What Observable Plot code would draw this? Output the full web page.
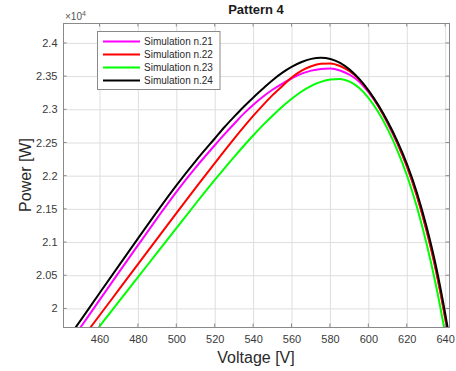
<!DOCTYPE html>
<html><head><meta charset="utf-8">
<script src="https://cdn.jsdelivr.net/npm/d3@7"></script>
<script src="https://cdn.jsdelivr.net/npm/@observablehq/plot@0.6"></script>
<style>
body{margin:0;background:#fff;}
svg{font-family:"Liberation Sans",Arial,Helvetica,sans-serif;}
</style>
</head><body><div id="chart"></div>
<script>
const seriesNames = ["Simulation n.21", "Simulation n.22", "Simulation n.23", "Simulation n.24"];
const seriesColors = ["#ff00ff", "#ff0000", "#00ff00", "#000000"];

const voltage21 = [447, 450, 460, 470, 480, 490, 500, 510, 520, 525, 530, 535, 540, 545, 550, 555, 560, 565, 570, 575, 580, 585, 590, 595, 600, 605, 610, 615, 620, 625, 630, 635, 640, 642];
const power21   = [19604, 19728, 20143, 20557, 20968, 21376, 21772, 22136, 22473, 22636, 22793, 22946, 23080, 23200, 23305, 23395, 23475, 23545, 23590, 23616, 23623, 23593, 23528, 23423, 23258, 23048, 22783, 22483, 22133, 21708, 21193, 20583, 19833, 19493];

const voltage22 = [452, 455, 460, 470, 480, 490, 500, 510, 520, 530, 540, 545, 550, 555, 560, 565, 570, 575, 580, 585, 590, 595, 600, 605, 610, 615, 620, 625, 630, 635, 640, 642];
const power22   = [19605, 19720, 19912, 20297, 20682, 21067, 21450, 21830, 22205, 22570, 22915, 23075, 23225, 23360, 23490, 23590, 23655, 23692, 23698, 23660, 23580, 23455, 23275, 23055, 22795, 22490, 22135, 21705, 21185, 20570, 19820, 19480];

const voltage23 = [455, 460, 470, 480, 490, 500, 510, 520, 530, 540, 545, 550, 555, 560, 565, 570, 575, 580, 585, 590, 595, 600, 605, 610, 615, 620, 625, 630, 635, 640, 642];
const power23   = [19555, 19746, 20116, 20486, 20856, 21225, 21592, 21950, 22295, 22620, 22772, 22915, 23050, 23170, 23275, 23360, 23420, 23455, 23463, 23423, 23328, 23173, 22963, 22698, 22378, 21998, 21538, 20988, 20348, 19598, 19300];

const voltage24 = [443, 445, 450, 460, 470, 480, 490, 500, 510, 520, 525, 530, 535, 540, 545, 550, 555, 560, 565, 570, 575, 580, 585, 590, 595, 600, 605, 610, 615, 620, 625, 630, 635, 640, 642];
const power24   = [19543, 19625, 19832, 20247, 20660, 21070, 21478, 21870, 22235, 22575, 22745, 22900, 23050, 23190, 23322, 23450, 23560, 23650, 23720, 23767, 23785, 23765, 23705, 23605, 23465, 23285, 23067, 22812, 22517, 22172, 21755, 21245, 20640, 19890, 19550];

const xTicks = [460, 480, 500, 520, 540, 560, 580, 600, 620, 640];
const yTicks = [20000, 20500, 21000, 21500, 22000, 22500, 23000, 23500, 24000];
const yTickLabels = ["2", "2.05", "2.1", "2.15", "2.2", "2.25", "2.3", "2.35", "2.4"];

const titleText = "Pattern 4";
const xLabel = "Voltage [V]";
const yLabel = "Power [W]";

(function () {
const allV = [voltage21, voltage22, voltage23, voltage24];
const allP = [power21, power22, power23, power24];
const rows = [];
seriesNames.forEach((name, s) => {
  allV[s].forEach((v, i) => rows.push({series: name, V: v, P: allP[s][i]}));
});

const W = 456, H = 371;
const mL = 63, mR = 7, mT = 23, mB = 44;

const plot = Plot.plot({
  width: W, height: H,
  marginLeft: mL, marginRight: mR, marginTop: mT, marginBottom: mB,
  style: {fontFamily: '"Liberation Sans", Arial, sans-serif', fontSize: "11px", color: "#3a3a3a", background: "#fff", overflow: "visible"},
  x: {domain: [441, 642], label: null},
  y: {domain: [19720, 24300], label: null},
  color: {domain: seriesNames, range: seriesColors},
  marks: [
    Plot.gridX(xTicks, {stroke: "#dedede", strokeOpacity: 1}),
    Plot.gridY(yTicks, {stroke: "#dedede", strokeOpacity: 1}),
    Plot.line(rows, {x: "V", y: "P", z: "series", stroke: "series", strokeWidth: 2, curve: "monotone-x", clip: true}),
    Plot.frame({stroke: "#8a8a8a"}),
    Plot.axisX(xTicks, {tickSize: 0, tickPadding: 8, fontSize: 11, fill: "#3a3a3a"}),
    Plot.axisY(yTicks, {tickSize: 0, tickPadding: 6, fontSize: 11, fill: "#3a3a3a", tickFormat: d => yTickLabels[yTicks.indexOf(d)]})
  ]
});

const xs = plot.scale("x"), ys = plot.scale("y");
const svg = d3.select(plot);
const pl = mL, pr = W - mR, pt = mT, pb = H - mB;
const tl = 3.5;
const tg = svg.append("g").attr("stroke", "#8a8a8a").attr("stroke-width", 1);
xTicks.forEach(t => {
  const x = xs.apply(t);
  tg.append("line").attr("x1", x).attr("x2", x).attr("y1", pb).attr("y2", pb - tl);
  tg.append("line").attr("x1", x).attr("x2", x).attr("y1", pt).attr("y2", pt + tl);
});
yTicks.forEach(t => {
  const y = ys.apply(t);
  tg.append("line").attr("y1", y).attr("y2", y).attr("x1", pl).attr("x2", pl + tl);
  tg.append("line").attr("y1", y).attr("y2", y).attr("x1", pr).attr("x2", pr - tl);
});

svg.append("text").attr("x", (pl + pr) / 2).attr("y", 14).attr("text-anchor", "middle")
  .attr("font-weight", "bold").attr("font-size", 13).attr("fill", "#1a1a1a").text(titleText);
const ex = svg.append("text").attr("x", pl + 2).attr("y", 19.5).attr("text-anchor", "start").attr("font-size", 10).attr("fill", "#555");
ex.append("tspan").text("\u00d710");
ex.append("tspan").attr("font-size", 7).attr("dy", -4).text("4");
svg.append("text").attr("x", (pl + pr) / 2).attr("y", 363).attr("text-anchor", "middle")
  .attr("font-size", 16).attr("fill", "#2a2a2a").text(xLabel);
svg.append("text").attr("transform", `translate(31,${(pt + pb) / 2}) rotate(-90)`).attr("text-anchor", "middle")
  .attr("font-size", 16).attr("fill", "#2a2a2a").text(yLabel);

const lg = svg.append("g");
lg.append("rect").attr("x", 97.5).attr("y", 31.5).attr("width", 122.5).attr("height", 58)
  .attr("fill", "#fff").attr("stroke", "#8a8a8a").attr("stroke-width", 1);
seriesNames.forEach((name, i) => {
  const y = 41.5 + i * 13;
  lg.append("line").attr("x1", 103).attr("x2", 140).attr("y1", y).attr("y2", y)
    .attr("stroke", seriesColors[i]).attr("stroke-width", 2);
  lg.append("text").attr("x", 144).attr("y", y + 3.6).attr("text-anchor", "start")
    .attr("font-size", 10).attr("fill", "#2a2a2a").text(name);
});

document.getElementById("chart").appendChild(plot);
})();
</script>
</body></html>
